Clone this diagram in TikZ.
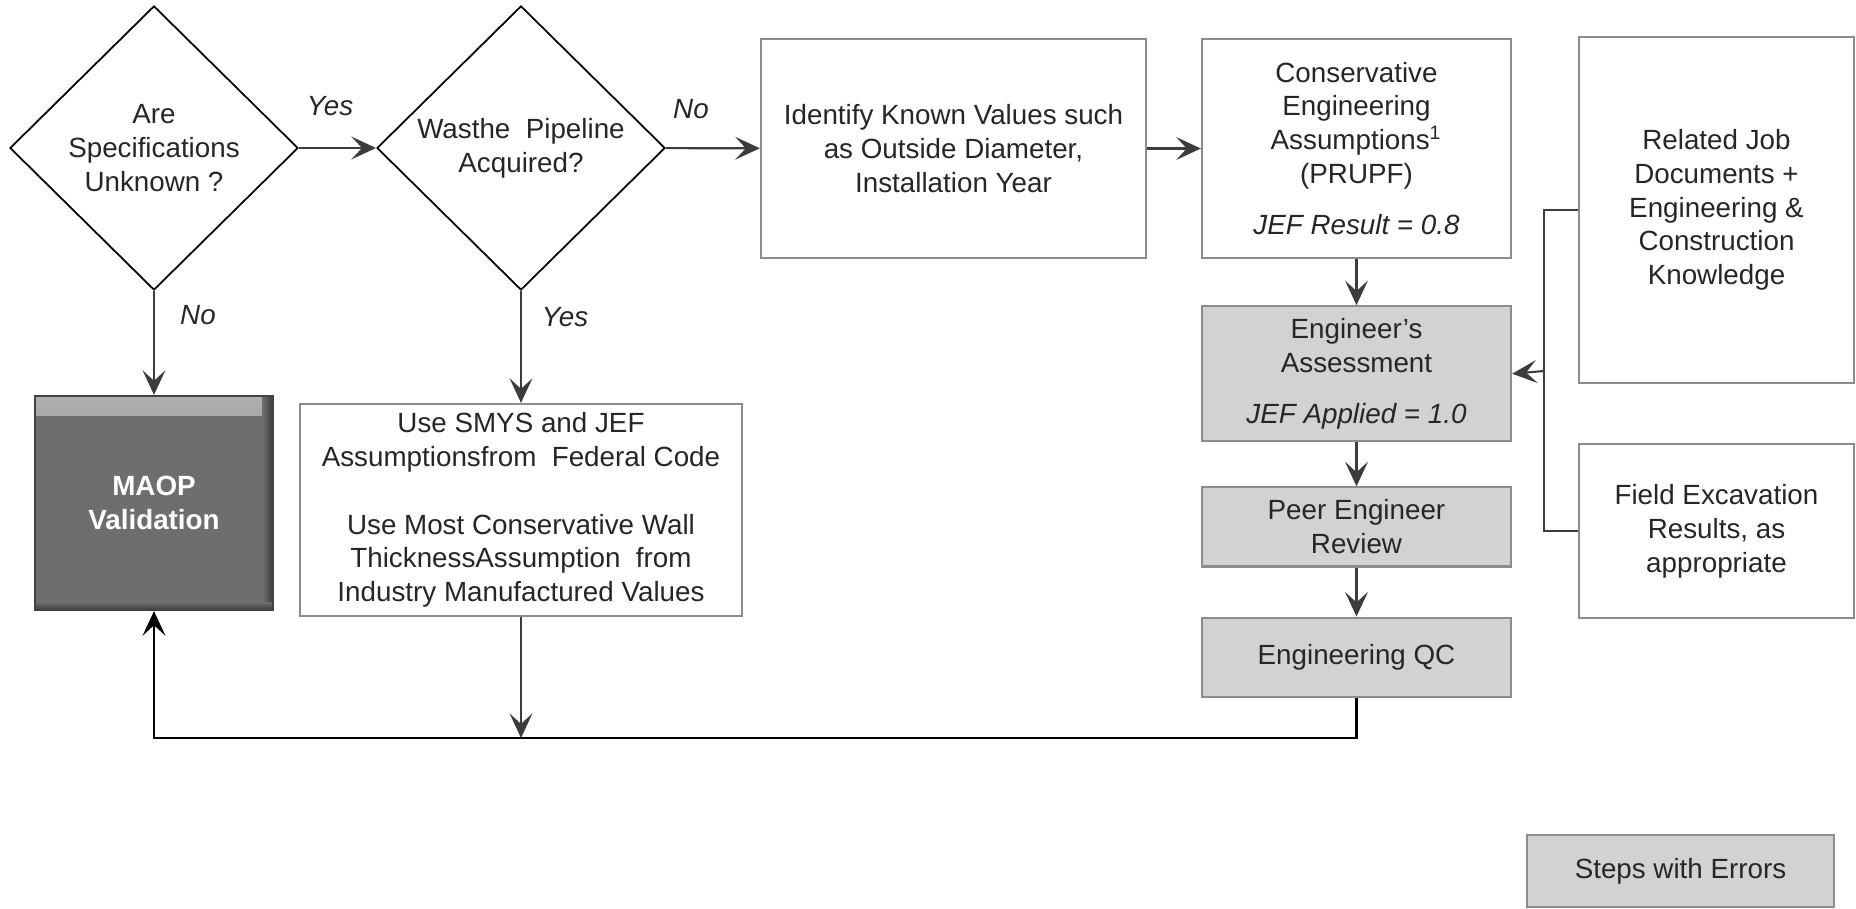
\documentclass[tikz,border=0pt]{standalone}
\usepackage{fontspec}
\setmainfont{Liberation Sans}
\usetikzlibrary{shapes.geometric, arrows.meta, positioning}
\definecolor{boxgray}{HTML}{8C8C8C}
\definecolor{linegray}{HTML}{3C3C3C}
\definecolor{errorgray}{HTML}{D2D2D2}
\definecolor{maopgray}{HTML}{6E6E6E}
\definecolor{inkgray}{HTML}{262626}

\begin{document}
\begin{tikzpicture}[x=0.01cm, y=-0.01cm,
  every node/.style={font=\fontsize{7.9}{9.6}\selectfont, text=inkgray, align=center},
  decision/.style={diamond, draw=black, line width=0.5pt, inner sep=0pt, minimum width=2.88cm, minimum height=2.84cm},
  plainbox/.style={rectangle, draw=boxgray, line width=0.6pt, inner sep=0pt},
  errorbox/.style={plainbox, fill=errorgray},
  maopbox/.style={rectangle, fill=maopgray, draw=maopgray!60!black, line width=0.6pt, inner sep=0pt,
    text=white, font=\fontsize{7.9}{9.6}\selectfont\bfseries,
    path picture={
      \fill[top color=maopgray!55!white, bottom color=maopgray] (path picture bounding box.north west) rectangle ([yshift=-0.2cm]path picture bounding box.north east);
      \fill[left color=maopgray, right color=maopgray!55!black] ([xshift=-0.1cm]path picture bounding box.north east) rectangle (path picture bounding box.south east);
      \fill[top color=maopgray, bottom color=maopgray!55!black] ([yshift=0.08cm]path picture bounding box.south west) rectangle (path picture bounding box.south east);}},
  answer/.style={font=\fontsize{7.9}{9.6}\selectfont\itshape},
  flow/.style={draw=linegray, line width=0.6pt, -{Stealth[length=7pt, width=6.5pt, inset=3pt]}},
  link/.style={draw=linegray, line width=0.6pt},
  feedback/.style={draw=black, line width=0.8pt, -{Stealth[length=7pt, width=6.5pt, inset=3pt]}}]

\useasboundingbox (0,0) rectangle (1856,909);

% decisions on the left
\node (specs) [decision] at (154,148) {Are\\Specifications\\Unknown ?};
\node (acquired) [decision] at (521,148) {Wasthe\ \ Pipeline\\Acquired?};

% top row
\node (known) [plainbox, minimum width=3.85cm, minimum height=2.19cm] at (953.5,148.5) {Identify Known Values such\\as Outside Diameter,\\Installation Year};
\node (conservative) [plainbox, minimum width=3.09cm, minimum height=2.19cm] at (1356.5,148.5) {Conservative\\Engineering\\Assumptions\textsuperscript{1}\\(PRUPF)\\[5pt]\textit{JEF Result = 0.8}};

% steps with errors
\node (assessment) [errorbox, minimum width=3.09cm, minimum height=1.35cm, below=0.46cm of conservative] {Engineer’s\\Assessment\\[5pt]\textit{JEF Applied = 1.0}};
\node (peer) [errorbox, minimum width=3.09cm, minimum height=0.79cm, below=0.44cm of assessment] {Peer Engineer\\Review};
\node (qc) [errorbox, minimum width=3.09cm, minimum height=0.79cm, below=0.49cm of peer] {Engineering QC};

% inputs on the right
\node (jobdocs) [plainbox, minimum width=2.75cm, minimum height=3.46cm] at (1716.5,210) {Related Job\\Documents +\\Engineering \&\\Construction\\Knowledge};
\node (excavation) [plainbox, minimum width=2.75cm, minimum height=1.74cm, below=0.59cm of jobdocs] {Field Excavation\\Results, as\\appropriate};

% lower left
\node (maop) [maopbox, minimum width=2.37cm, minimum height=2.14cm] at (154,503) {MAOP\\Validation};
\node (federal) [plainbox, minimum width=4.42cm, minimum height=2.12cm] at (521,510) {Use SMYS and JEF\\Assumptionsfrom\ \ Federal Code\\[9.6pt]Use Most Conservative Wall\\ThicknessAssumption\ \ from\\Industry Manufactured Values};

% legend
\node (legend) [errorbox, minimum width=3.07cm, minimum height=0.72cm] at (1680.5,871) {Steps with Errors};

% answers
\node (yesone) [answer] at (330,106) {Yes};
\node (notwo) [answer] at (691,109) {No};
\node (noone) [answer] at (198,315) {No};
\node (yestwo) [answer] at (565,317) {Yes};

\coordinate (merge) at (1544,371);
\coordinate (join) at (521,738);

\draw[flow] (specs) -- (acquired);
\draw[flow] (acquired) -- (known);
\draw[flow] (known) -- (conservative);
\draw[flow] (conservative) -- (assessment);
\draw[flow] (assessment) -- (peer);
\draw[flow] (peer) -- (qc);
\draw[flow] (specs) -- (maop);
\draw[flow] (acquired) -- (federal);
\draw[link] (jobdocs.west) -| (merge);
\draw[link] (excavation.west) -| (merge);
\draw[flow] (merge) -- (assessment.east);
\draw[flow] (federal) -- (join);
\draw[feedback] (qc.south) |- (join) -| (maop.south);

\end{tikzpicture}
\end{document}
